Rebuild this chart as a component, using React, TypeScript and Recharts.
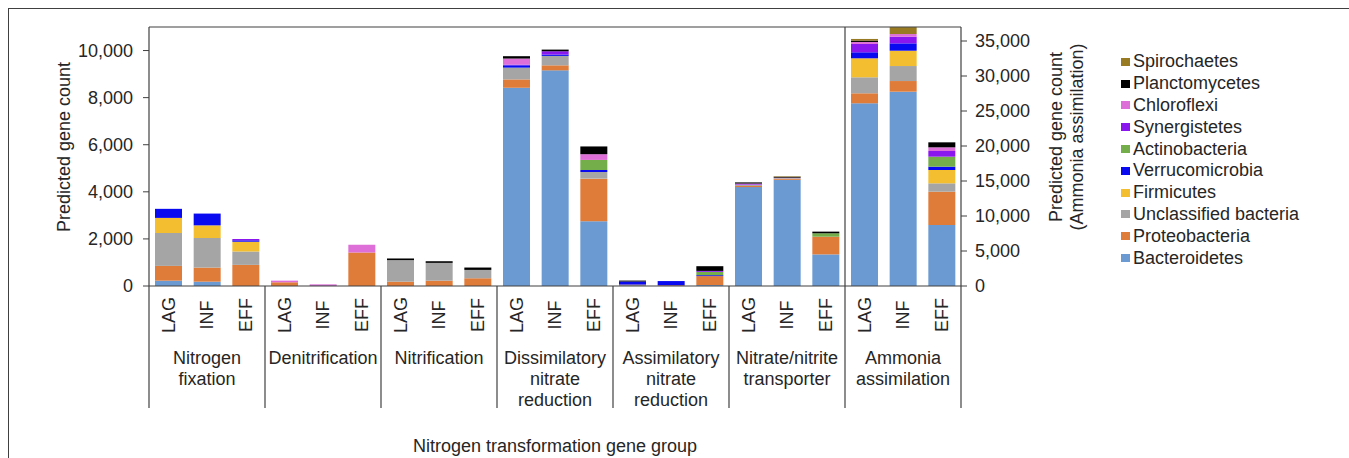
import React from "react";
import { BarChart, Bar, XAxis, YAxis, ReferenceLine, Label } from "recharts";

// gene groups along the x axis; the last one is plotted on the right axis
const GROUPS = [
  "Nitrogen fixation",
  "Denitrification",
  "Nitrification",
  "Dissimilatory nitrate reduction",
  "Assimilatory nitrate reduction",
  "Nitrate/nitrite transporter",
  "Ammonia assimilation",
];
const GROUP_LINES = [
  ["Nitrogen", "fixation"],
  ["Denitrification"],
  ["Nitrification"],
  ["Dissimilatory", "nitrate", "reduction"],
  ["Assimilatory", "nitrate", "reduction"],
  ["Nitrate/nitrite", "transporter"],
  ["Ammonia", "assimilation"],
];
const SAMPLES = ["LAG", "INF", "EFF"];
const RIGHT_AXIS_GROUP = "Ammonia assimilation";

const LEFT_TICKS = [0, 2000, 4000, 6000, 8000, 10000];
const RIGHT_TICKS = [0, 5000, 10000, 15000, 20000, 25000, 30000, 35000];

// predicted gene counts, 3 samples per group, in GROUPS order
const bacteroidetes = [226, 184, 0, 0, 0, 0, 0, 0, 0, 8419, 9158, 2748, 30, 0, 40, 4200, 4510, 1342, 26100, 27757, 8714];
const proteobacteria = [628, 598, 897, 158, 20, 1423, 184, 226, 329, 355, 214, 1812, 30, 30, 380, 50, 40, 752, 1429, 1524, 4762];
const unclassified = [1397, 1256, 568, 0, 0, 0, 915, 756, 355, 500, 400, 282, 0, 0, 0, 40, 30, 0, 2286, 2143, 1190];
const firmicutes = [641, 538, 415, 0, 0, 0, 0, 0, 0, 0, 0, 0, 0, 0, 0, 0, 0, 0, 2714, 2190, 1905];
const verrucomicrobia = [385, 500, 60, 0, 0, 0, 0, 0, 0, 100, 57, 85, 130, 180, 40, 0, 0, 0, 857, 1048, 476];
const actinobacteria = [0, 0, 0, 0, 0, 0, 0, 0, 0, 0, 0, 427, 0, 0, 141, 0, 0, 145, 0, 0, 1429];
const synergistetes = [0, 0, 55, 0, 20, 0, 0, 0, 0, 30, 141, 0, 0, 0, 40, 30, 0, 0, 1190, 952, 810];
const chloroflexi = [0, 0, 0, 70, 30, 329, 0, 0, 0, 256, 0, 244, 0, 0, 0, 30, 20, 0, 286, 381, 524];
const planctomycetes = [0, 0, 0, 0, 0, 0, 70, 70, 100, 100, 70, 329, 40, 0, 200, 50, 40, 70, 200, 0, 714];
const spirochaetes = [0, 0, 0, 0, 0, 0, 0, 0, 0, 0, 0, 0, 0, 0, 0, 0, 20, 0, 230, 995, 0];

// stacked bottom to top
const TAXA = [
  { key: "Bacteroidetes", color: "#6b9ad3", values: bacteroidetes },
  { key: "Proteobacteria", color: "#e07c3a", values: proteobacteria },
  { key: "Unclassified bacteria", color: "#a5a5a5", values: unclassified },
  { key: "Firmicutes", color: "#f3bf31", values: firmicutes },
  { key: "Verrucomicrobia", color: "#0a0af0", values: verrucomicrobia },
  { key: "Actinobacteria", color: "#74ae4a", values: actinobacteria },
  { key: "Synergistetes", color: "#8a17ee", values: synergistetes },
  { key: "Chloroflexi", color: "#de6fd8", values: chloroflexi },
  { key: "Planctomycetes", color: "#000000", values: planctomycetes },
  { key: "Spirochaetes", color: "#987a22", values: spirochaetes },
];

const rows = GROUPS.flatMap((g, gi) =>
  SAMPLES.map((s, si) => {
    const idx = gi * 3 + si;
    const row: Record<string, any> = { id: `${g}|${s}`, sample: s, group: gi };
    TAXA.forEach((t) => {
      const v = t.values[idx];
      const right = g === RIGHT_AXIS_GROUP;
      row[t.key] = right ? 0 : v;
      row[t.key + "_r"] = right ? v : 0;
    });
    return row;
  })
);

const FONT = "'Liberation Sans', Arial, sans-serif";
const INK = "#262626";
const AXIS = "#404040";
const W = 1340;
const H = 449;
const M = { top: 18, right: 288, bottom: 50, left: 0 };
const PLOT_H = 259;
const X_AXIS_H = 122;

const fmt = (v: number) => v.toLocaleString("en-US");

const XTick = (props: any) => {
  const { x, y, payload } = props;
  const i = payload.index;
  const half = payload.offset || 812 / 21 / 2;
  const gi = Math.floor(i / 3);
  const ly = y + 29;
  return (
    <g>
      <text
        x={x}
        y={ly}
        transform={`rotate(-90, ${x}, ${ly})`}
        textAnchor="middle"
        dy="0.35em"
        fontSize={18}
        fontFamily={FONT}
        fill={INK}
      >
        {SAMPLES[i % 3]}
      </text>
      {i % 3 === 1 &&
        GROUP_LINES[gi].map((line, k) => (
          <text
            key={k}
            x={x}
            y={y + 77.5 + k * 21}
            textAnchor="middle"
            fontSize={18}
            fontFamily={FONT}
            fill={INK}
          >
            {line}
          </text>
        ))}
      {i % 3 === 0 && (
        <line
          x1={x - half}
          x2={x - half}
          y1={i === 18 ? y - PLOT_H : y}
          y2={y + X_AXIS_H}
          stroke={AXIS}
          strokeWidth={1.2}
        />
      )}
      {i === rows.length - 1 && (
        <line x1={x + half} x2={x + half} y1={y} y2={y + X_AXIS_H} stroke={AXIS} strokeWidth={1.2} />
      )}
    </g>
  );
};

const LeftTitle = () => (
  <text
    x={55}
    y={138}
    transform="rotate(-90, 55, 138)"
    textAnchor="middle"
    dy="0.35em"
    fontSize={18}
    fontFamily={FONT}
    fill={INK}
  >
    Predicted gene count
  </text>
);

const RightTitle = () => (
  <g>
    {["Predicted gene count", "(Ammonia assimilation)"].map((t, k) => {
      const x = 1047 + k * 21;
      return (
        <text
          key={k}
          x={x}
          y={128}
          transform={`rotate(-90, ${x}, 128)`}
          textAnchor="middle"
          dy="0.35em"
          fontSize={18}
          fontFamily={FONT}
          fill={INK}
        >
          {t}
        </text>
      );
    })}
  </g>
);

export default function App() {
  return (
    <div style={{ position: "relative", width: 1349, height: 458, overflow: "hidden", fontFamily: FONT }}>
      <style>{`body{margin:0}`}</style>
      <div
        style={{
          position: "absolute",
          left: 8,
          top: 8,
          width: 1341,
          height: 450,
          borderTop: `1px solid ${AXIS}`,
          borderLeft: `1px solid ${AXIS}`,
          boxSizing: "border-box",
        }}
      />
      <div style={{ position: "absolute", left: 9, top: 9 }}>
        <BarChart width={W} height={H} data={rows} margin={M} barSize={27}>
          <XAxis
            xAxisId="a"
            dataKey="id"
            interval={0}
            height={X_AXIS_H}
            tickSize={0}
            tickMargin={0}
            tickLine={false}
            axisLine={{ stroke: AXIS, strokeWidth: 1.2 }}
            tick={<XTick />}
          >
            <Label
              value="Nitrogen transformation gene group"
              position="bottom"
              offset={31}
              fontSize={18}
              fontFamily={FONT}
              fill={INK}
            />
          </XAxis>
          <XAxis xAxisId="b" dataKey="id" hide />
          <YAxis
            yAxisId="left"
            width={140}
            domain={[0, 11000]}
            ticks={LEFT_TICKS}
            tickFormatter={fmt}
            tickSize={6}
            tickMargin={10}
            axisLine={{ stroke: AXIS, strokeWidth: 1.2 }}
            tickLine={{ stroke: AXIS }}
            tick={{ fontSize: 18, fill: INK, fontFamily: FONT }}
            label={<Label content={LeftTitle} />}
          />
          <YAxis
            yAxisId="right"
            orientation="right"
            width={100}
            domain={[0, 37000]}
            allowDataOverflow
            ticks={RIGHT_TICKS}
            tickFormatter={fmt}
            tickSize={6}
            tickMargin={8}
            axisLine={{ stroke: AXIS, strokeWidth: 1.2 }}
            tickLine={{ stroke: AXIS }}
            tick={{ fontSize: 18, fill: INK, fontFamily: FONT }}
            label={<Label content={RightTitle} />}
          />
          <ReferenceLine y={11000} yAxisId="left" xAxisId="a" stroke={AXIS} strokeWidth={1.2} />
          {TAXA.map((t) => (
            <Bar
              key={t.key}
              xAxisId="a"
              yAxisId="left"
              stackId="left"
              dataKey={t.key}
              fill={t.color}
              isAnimationActive={false}
            />
          ))}
          {TAXA.map((t) => (
            <Bar
              key={t.key + "_r"}
              xAxisId="b"
              yAxisId="right"
              stackId="right"
              dataKey={t.key + "_r"}
              fill={t.color}
              isAnimationActive={false}
            />
          ))}
        </BarChart>
      </div>
      <div style={{ position: "absolute", left: 1121, top: 51 }}>
        {[...TAXA].reverse().map((t) => (
          <div
            key={t.key}
            style={{ display: "flex", alignItems: "center", height: 21.8, fontSize: 18, color: INK, whiteSpace: "nowrap" }}
          >
            <span style={{ width: 9, height: 8, background: t.color, marginRight: 3, flex: "none" }} />
            {t.key}
          </div>
        ))}
      </div>
    </div>
  );
}
